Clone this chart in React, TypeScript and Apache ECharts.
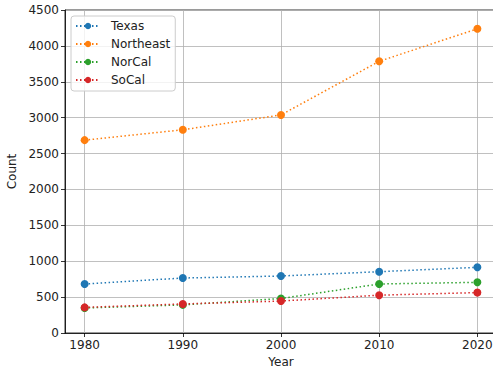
import React, { useEffect, useRef } from "react";
import * as echarts from "echarts";

const years = [1980, 1990, 2000, 2010, 2020];
const texas = [683, 766, 794, 854, 915];
const northeast = [2687, 2831, 3038, 3785, 4238];
const norcal = [349, 392, 481, 683, 706];
const socal = [357, 405, 445, 527, 563];
const seriesNames = ["Texas", "Northeast", "NorCal", "SoCal"];
const seriesColors = ["#1f77b4", "#ff7f0e", "#2ca02c", "#d62728"];
const yTicks = [0, 500, 1000, 1500, 2000, 2500, 3000, 3500, 4000, 4500];

const FONT = "DejaVu Sans";
const FS = 12;

export default function App() {
  const ref = useRef<HTMLDivElement>(null);
  useEffect(() => {
    if (!ref.current) return;
    const chart = echarts.init(ref.current, null, { renderer: "svg" });
    const values = [texas, northeast, norcal, socal];
    chart.setOption({
      animation: false,
      backgroundColor: "#ffffff",
      grid: {
        left: 65,
        top: 10,
        width: 432,
        height: 323,
        outerBoundsMode: "none",
        containLabel: false,
        show: true,
        borderColor: "#000",
        borderWidth: 0.8,
        backgroundColor: "transparent",
      },
      legend: {
        left: 71,
        top: 16,
        orient: "vertical",
        backgroundColor: "rgba(255,255,255,0.8)",
        borderColor: "#cccccc",
        borderWidth: 1,
        borderRadius: 3,
        padding: [4, 5, 5, 4],
        itemGap: 6,
        itemWidth: 24,
        itemHeight: 8,
        data: seriesNames,
        textStyle: {
          fontFamily: FONT,
          fontSize: FS,
          color: "#222",
          padding: [0, 0, 0, 6],
        },
      },
      xAxis: {
        type: "value",
        min: 1978,
        max: 2022,
        name: "Year",
        nameLocation: "middle",
        nameGap: 23,
        nameTextStyle: { fontFamily: FONT, fontSize: FS, color: "#222" },
        axisLine: { show: true, lineStyle: { color: "#000", width: 0.8 } },
        axisTick: {
          show: true,
          customValues: years,
          length: 4,
          lineStyle: { color: "#000", width: 0.8 },
        },
        axisLabel: {
          customValues: years,
          fontFamily: FONT,
          fontSize: FS,
          color: "#222",
          margin: 6,
          formatter: (v: number) => String(v),
        },
        splitLine: { show: true, lineStyle: { color: "#b0b0b0", width: 0.8 } },
      },
      yAxis: {
        type: "value",
        min: 0,
        max: 4500,
        interval: 500,
        name: "Count",
        nameLocation: "middle",
        nameGap: 44,
        nameTextStyle: { fontFamily: FONT, fontSize: FS, color: "#222" },
        axisLine: { show: true, lineStyle: { color: "#000", width: 0.8 } },
        axisTick: { show: true, length: 4, lineStyle: { color: "#000", width: 0.8 } },
        axisLabel: {
          fontFamily: FONT,
          fontSize: FS,
          color: "#222",
          margin: 6,
          formatter: (v: number) => (yTicks.includes(v) ? String(v) : ""),
        },
        splitLine: { show: true, lineStyle: { color: "#b0b0b0", width: 0.8 } },
      },
      series: seriesNames.map((name, i) => ({
        name,
        type: "line",
        data: years.map((y, j) => [y, values[i][j]]),
        symbol: "circle",
        symbolSize: 8,
        color: seriesColors[i],
        itemStyle: { color: seriesColors[i] },
        lineStyle: { type: [1.5, 2.5], width: 1.5, color: seriesColors[i] },
      })),
    });
    return () => chart.dispose();
  }, []);
  return (
    <div
      ref={ref}
      style={{ position: "fixed", left: 0, top: 0, width: 493, height: 375 }}
    />
  );
}
